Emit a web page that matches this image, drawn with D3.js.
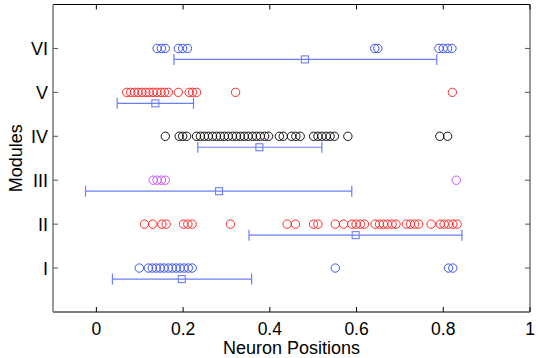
<!DOCTYPE html>
<html><head><meta charset="utf-8">
<script src="https://cdn.jsdelivr.net/npm/d3@7"></script>
<style>body{margin:0;background:#fff}svg{display:block}text{font-family:"Liberation Sans",Arial,sans-serif}</style>
</head><body><svg id="c" width="540" height="358"></svg>
<script>
const modules = ["I","II","III","IV","V","VI"];
const colors = ["#3d55f5","#ff2a2a","#cc55ff","#111111","#ff2a2a","#3d55f5"];
const posI = [0.099,0.120,0.129,0.138,0.147,0.156,0.166,0.175,0.184,0.193,0.202,0.212,0.221,0.551,0.812,0.822];
const posII = [0.111,0.130,0.151,0.161,0.201,0.211,0.221,0.309,0.440,0.459,0.501,0.511,0.551,0.570,0.589,0.599,0.609,0.618,0.643,0.653,0.662,0.671,0.682,0.691,0.715,0.724,0.734,0.743,0.772,0.793,0.802,0.812,0.822,0.832];
const posIII = [0.131,0.140,0.150,0.159,0.830];
const posIV = [0.159,0.191,0.199,0.208,0.231,0.240,0.249,0.258,0.268,0.277,0.286,0.295,0.304,0.314,0.323,0.332,0.341,0.350,0.360,0.369,0.378,0.388,0.397,0.422,0.431,0.450,0.460,0.470,0.501,0.511,0.520,0.530,0.539,0.549,0.580,0.792,0.810];
const posV = [0.070,0.079,0.088,0.096,0.105,0.114,0.122,0.131,0.140,0.149,0.157,0.166,0.189,0.214,0.222,0.231,0.321,0.821];
const posVI = [0.140,0.150,0.159,0.189,0.199,0.210,0.642,0.649,0.790,0.800,0.810,0.820];
const positions = [posI,posII,posIII,posIV,posV,posVI];
const meanPos = [0.197,0.598,0.283,0.376,0.136,0.481];
const lowPos  = [0.037,0.352,-0.025,0.234,0.048,0.179];
const highPos = [0.358,0.843,0.589,0.520,0.224,0.785];
const xTicks = [0,0.2,0.4,0.6,0.8,1];
const xTickLabels = ["0","0.2","0.4","0.6","0.8","1"];

const svg = d3.select("#c");
const L=53, R=530, T=4.5, B=312;
const x = d3.scaleLinear().domain([-0.1,1]).range([L,R]);
const y = d3.scaleLinear().domain([0,7]).range([B,T]);
const barOff = 0.25;
const errColor = "#6b7ef7";

// error bars
const g = svg.append("g");
modules.forEach((m,i)=>{
  const yb = y(i+1-barOff);
  g.append("line").attr("x1",x(lowPos[i])).attr("x2",x(highPos[i])).attr("y1",yb).attr("y2",yb).attr("stroke",errColor).attr("stroke-width",1.2);
  [lowPos[i],highPos[i]].forEach(v=>{
    g.append("line").attr("x1",x(v)).attr("x2",x(v)).attr("y1",yb-5.5).attr("y2",yb+5.5).attr("stroke",errColor).attr("stroke-width",1.2);
  });
  g.append("rect").attr("x",x(meanPos[i])-3.5).attr("y",yb-3.5).attr("width",7).attr("height",7).attr("fill","none").attr("stroke",errColor).attr("stroke-width",1.1);
});
// points
modules.forEach((m,i)=>{
  g.selectAll(null).data(positions[i]).enter().append("circle")
    .attr("cx",d=>x(d)).attr("cy",y(i+1)).attr("r",4.2)
    .attr("fill","none").attr("stroke",colors[i]).attr("stroke-width",1);
});

// frame
svg.append("line").attr("x1",L).attr("x2",R).attr("y1",T).attr("y2",T).attr("stroke","#000").attr("stroke-width",1.2);
svg.append("line").attr("x1",L).attr("x2",R).attr("y1",B).attr("y2",B).attr("stroke","#000").attr("stroke-width",1.2);
svg.append("line").attr("x1",L).attr("x2",L).attr("y1",T).attr("y2",B).attr("stroke","#777").attr("stroke-width",1.5);
svg.append("line").attr("x1",R).attr("x2",R).attr("y1",T).attr("y2",B).attr("stroke","#777").attr("stroke-width",1.5);

// x ticks
xTicks.forEach((t,i)=>{
  svg.append("line").attr("x1",x(t)).attr("x2",x(t)).attr("y1",B).attr("y2",B-5).attr("stroke","#000");
  svg.append("line").attr("x1",x(t)).attr("x2",x(t)).attr("y1",T).attr("y2",T+5).attr("stroke","#000");
  svg.append("text").attr("x",x(t)).attr("y",334.5).attr("text-anchor","middle").attr("font-size",17.5).text(xTickLabels[i]);
});
// y ticks
modules.forEach((m,i)=>{
  const yy=y(i+1);
  svg.append("line").attr("x1",L).attr("x2",L+5).attr("y1",yy).attr("y2",yy).attr("stroke","#555");
  svg.append("line").attr("x1",R).attr("x2",R-5).attr("y1",yy).attr("y2",yy).attr("stroke","#555");
  svg.append("text").attr("x",48).attr("y",yy).attr("dy","0.36em").attr("text-anchor","end").attr("font-size",18).text(m);
});
svg.append("text").attr("x",291.5).attr("y",354).attr("text-anchor","middle").attr("font-size",18).text("Neuron Positions");
svg.append("text").attr("transform",`translate(22,${(T+B)/2}) rotate(-90)`).attr("text-anchor","middle").attr("font-size",18).text("Modules");
</script></body></html>
